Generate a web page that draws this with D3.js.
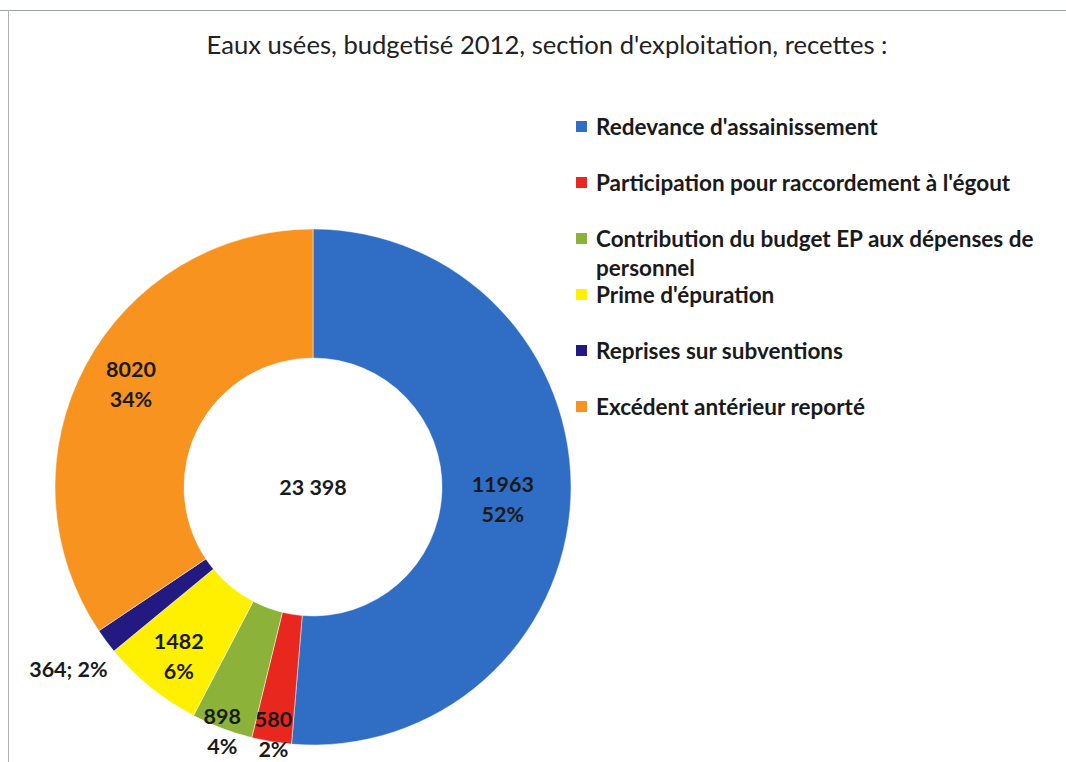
<!DOCTYPE html>
<html>
<head>
<meta charset="utf-8">
<script src="https://cdn.jsdelivr.net/npm/d3@7"></script>
<style>
  html, body { margin: 0; padding: 0; background: #fff; }
  svg { display: block; }
</style>
</head>
<body>
<svg id="chart" width="1066" height="762"></svg>
<script>
// ---- data ----
const categories = [
  "Redevance d'assainissement",
  "Participation pour raccordement à l'égout",
  "Contribution du budget EP aux dépenses de personnel",
  "Prime d'épuration",
  "Reprises sur subventions",
  "Excédent antérieur reporté"
];
const values = [11963, 580, 898, 1482, 364, 8020];
const percentLabels = ["52%", "2%", "4%", "6%", "2%", "34%"];
const totalLabel = "23 398";
const legendLines = [
  ["Redevance d'assainissement"],
  ["Participation pour raccordement à l'égout"],
  ["Contribution du budget EP aux dépenses de", "personnel"],
  ["Prime d'épuration"],
  ["Reprises sur subventions"],
  ["Excédent antérieur reporté"]
];
const titleText = "Eaux usées, budgetisé 2012, section d'exploitation, recettes :";

// ---- styles / layout ----
const colors = ["#2f6ec4", "#e8271f", "#8cb23a", "#fff000", "#221a80", "#f7931e"];
const labelRadius = [190, 246, 257, 213, 305, 211];
const labelAngleShift = [0, 0, 0, 0, 0, 0.04];
const labelInline = [false, false, false, false, true, false];

const svg = d3.select("#chart");
const W = 1066, H = 762;
const cx = 313, cy = 487, rOuter = 258, rInner = 129;

// frame lines
svg.append("line").attr("x1", 0).attr("x2", W).attr("y1", 10.5).attr("y2", 10.5)
  .attr("stroke", "#9aa0a8").attr("stroke-width", 1.2);
svg.append("line").attr("x1", 8.5).attr("x2", 8.5).attr("y1", 10).attr("y2", H)
  .attr("stroke", "#b0b0b0").attr("stroke-width", 1);

// title
svg.append("text")
  .attr("x", 547).attr("y", 54)
  .attr("text-anchor", "middle")
  .attr("font-family", "Lato, 'Open Sans', sans-serif")
  .attr("font-size", 25)
  .attr("fill", "#222")
  .attr("textLength", 681)
  .attr("lengthAdjust", "spacingAndGlyphs")
  .text(titleText);

const pie = d3.pie().sort(null).value(d => d).startAngle(0).endAngle(2 * Math.PI);
const arcs = pie(values);
const arc = d3.arc().innerRadius(rInner).outerRadius(rOuter);

const g = svg.append("g").attr("transform", `translate(${cx},${cy})`);
g.selectAll("path.slice").data(arcs).enter().append("path")
  .attr("class", "slice")
  .attr("d", arc)
  .attr("fill", (d, i) => colors[i])
  .attr("stroke", "rgba(255,255,255,0.6)")
  .attr("stroke-width", 0.8);

// data labels
const labelFont = "Lato, 'Open Sans', sans-serif";
arcs.forEach((d, i) => {
  const a = (d.startAngle + d.endAngle) / 2 + labelAngleShift[i];
  const r = labelRadius[i];
  const x = Math.sin(a) * r, y = -Math.cos(a) * r;
  const t = g.append("text")
    .attr("x", x).attr("y", y)
    .attr("text-anchor", "middle")
    .attr("font-family", labelFont)
    .attr("font-weight", "bold")
    .attr("font-size", 21.5)
    .attr("fill", "#1a1a1a");
  if (labelInline[i]) {
    t.attr("dy", "0.35em").text(values[i] + "; " + percentLabels[i]);
  } else {
    t.append("tspan").attr("x", x).attr("dy", "-0.15em").text(values[i]);
    t.append("tspan").attr("x", x).attr("dy", 30).text(percentLabels[i]);
  }
});

// center total
g.append("text")
  .attr("x", 0).attr("y", 8)
  .attr("text-anchor", "middle")
  .attr("font-family", labelFont)
  .attr("font-weight", "bold")
  .attr("font-size", 21.5)
  .attr("fill", "#1a1a1a")
  .text(totalLabel);

// legend
const legendY = d3.scalePoint().domain(d3.range(categories.length)).range([127, 407]);
const legend = svg.append("g");
categories.forEach((c, i) => {
  const y0 = legendY(i);
  legend.append("rect")
    .attr("x", 576).attr("y", y0 - 6).attr("width", 11).attr("height", 11)
    .attr("fill", colors[i]);
  legendLines[i].forEach((line, k) => {
    legend.append("text")
      .attr("x", 596).attr("y", y0 + 8 + k * 29)
      .attr("font-family", labelFont)
      .attr("font-weight", "bold")
      .attr("font-size", 22.5)
      .attr("fill", "#1a1a1a")
      .text(line);
  });
});
</script>
</body>
</html>
